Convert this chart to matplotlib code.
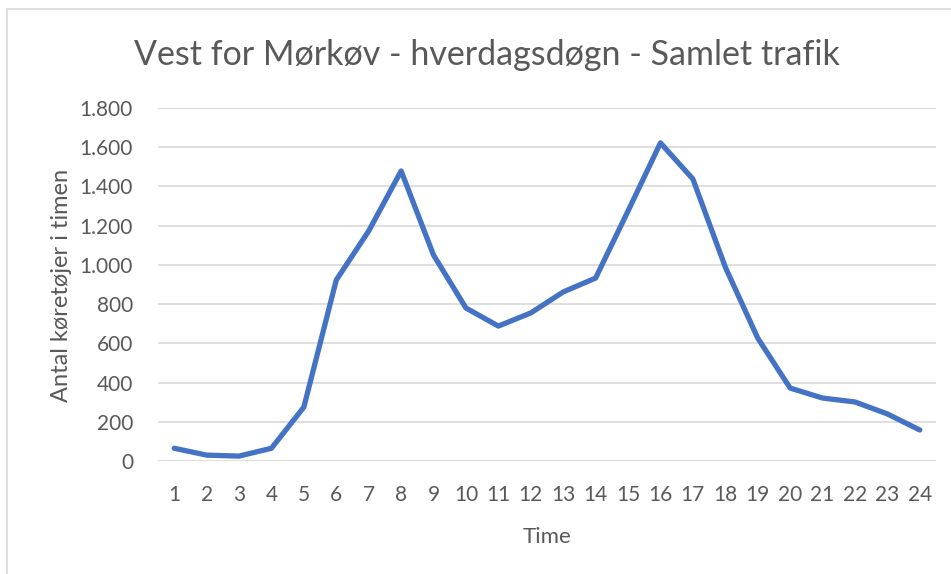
import matplotlib.pyplot as plt
from matplotlib.patches import Rectangle
from matplotlib.ticker import FuncFormatter

plt.rcParams['font.family'] = ['Lato', 'DejaVu Sans']

hours = list(range(1, 25))
traffic = [65, 30, 25, 65, 275, 923, 1173, 1479, 1050, 780, 688, 755,
           862, 933, 1275, 1622, 1438, 989, 627, 372, 321, 301, 240, 158]
yticks = [0, 200, 400, 600, 800, 1000, 1200, 1400, 1600, 1800]

title = 'Vest for Mørkøv - hverdagsdøgn - Samlet trafik'
xlabel = 'Time'
ylabel = 'Antal køretøjer i timen'

grey = '#595959'

fig = plt.figure(figsize=(9.51, 5.74), dpi=100)
ax = fig.add_axes([158 / 951, 113 / 574, 778 / 951, 353 / 574])

# outer chart border
fig.patches.append(Rectangle((7 / 951, -0.1), 1.1, (574 - 9) / 574 + 0.1,
                             transform=fig.transFigure, fill=False,
                             edgecolor='#d9d9d9', linewidth=1.2))

ax.plot(hours, traffic, color='#4472C4', linewidth=3.8,
        solid_capstyle='round', solid_joinstyle='round', zorder=3)

ax.set_xlim(0.5, 24.5)
ax.set_ylim(0, 1800)
ax.set_xticks(hours)
ax.set_yticks(yticks)
ax.yaxis.set_major_formatter(
    FuncFormatter(lambda v, p: '{:,.0f}'.format(v).replace(',', '.')))
ax.grid(axis='y', color='#d9d9d9', linewidth=1.2, zorder=0)
for s in ax.spines.values():
    s.set_visible(False)
ax.tick_params(length=0, labelsize=15, colors=grey)
ax.tick_params(axis='y', pad=18)
ax.tick_params(axis='x', pad=17)

ax.set_xlabel(xlabel, fontsize=16, color=grey, labelpad=16)
fig.text(62 / 951, 1 - 285 / 574, ylabel, fontsize=17, color=grey,
         rotation=90, ha='center', va='center')
fig.text(487 / 951, 1 - 55 / 574, title, fontsize=24.5, color=grey,
         ha='center', va='center')

fig.savefig('out.png', dpi=100)
